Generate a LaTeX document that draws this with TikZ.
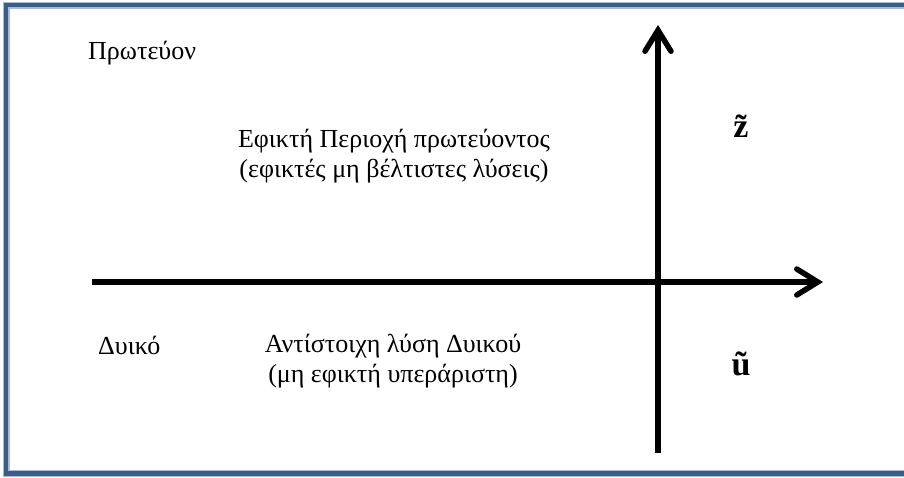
\documentclass[tikz,border=0pt]{standalone}
\usepackage{fontspec}
\setmainfont{Liberation Serif}
\usetikzlibrary{arrows.meta}
\definecolor{framedark}{HTML}{3A5E8C}
\definecolor{framelight}{HTML}{A9BBD2}
\tikzset{
  lbl/.style={inner sep=0pt, font=\fontsize{26}{30}\selectfont, align=center, anchor=base},
  lbll/.style={lbl, anchor=base west},
  var/.style={inner sep=0pt, font=\fontsize{34}{36}\selectfont\bfseries, anchor=base},
  axis/.style={line width=5.5pt, -{Straight Barb[length=21pt,width=26pt,line cap=round]}},
}
\begin{document}
\begin{tikzpicture}[x=1pt,y=-1pt]
\useasboundingbox (0,0) rectangle (904,477);
% frame
\draw[framelight, line width=7pt] (910,5) -- (6,5) -- (6,473.5) -- (910,473.5);
\draw[framedark, line width=4.5pt] (910,5) -- (6,5) -- (6,473.5) -- (910,473.5);
% axes
\coordinate (vbot) at (658,453);
\coordinate (vtop) at (658,25);
\coordinate (hleft) at (92,282);
\coordinate (hright) at (823,282);
\draw[axis] (vbot) -- (vtop);
\draw[axis] (hleft) -- (hright);
% labels
\node[lbll] (prim) at (88,59) {Πρωτεύον};
\node[lbl] (feas) at (394,177) {Εφικτή Περιοχή πρωτεύοντος\\(εφικτές μη βέλτιστες λύσεις)};
\node[lbll] (dual) at (98,354) {Δυικό};
\node[lbl] (cors) at (393,382) {Αντίστοιχη λύση Δυικού\\(μη εφικτή υπεράριστη)};
\node[var] (z) at (741,137) {z\char"0303};
\node[var] (u) at (741,375) {ũ};
\end{tikzpicture}
\end{document}
